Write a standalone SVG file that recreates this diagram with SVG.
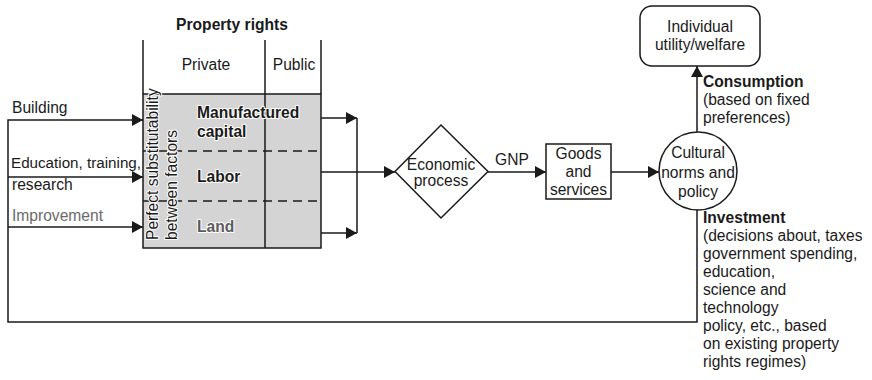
<svg xmlns="http://www.w3.org/2000/svg" width="872" height="380" viewBox="0 0 872 380">
<defs>
<marker id="ah" markerWidth="12" markerHeight="12" refX="11" refY="6" orient="auto" markerUnits="userSpaceOnUse">
<path d="M0,0 L11,6 L0,12 Z" fill="#1a1a1a"/>
</marker>
</defs>
<style>
text{font-family:"Liberation Sans",Arial,sans-serif;font-size:15.6px;fill:#1a1a1a}
.b{font-weight:bold}
.g{fill:#6a6a6a}
.gl{fill:#5c5c5c}
.halo{paint-order:stroke;stroke:#fff;stroke-width:2px;stroke-linejoin:round}
.ln{fill:none;stroke:#1a1a1a;stroke-width:1.5}
.c{text-anchor:middle}
</style>
<rect width="872" height="380" fill="#fff"/>

<g id="property-table">
<rect x="143" y="94" width="178" height="154" fill="#d4d4d4" stroke="#1a1a1a" stroke-width="1.5"/>
<line class="ln" x1="143" y1="40" x2="143" y2="94"/>
<line class="ln" x1="265" y1="40" x2="265" y2="248"/>
<line class="ln" x1="321" y1="40" x2="321" y2="94"/>
<line x1="143" y1="151" x2="321" y2="151" stroke="#1a1a1a" stroke-width="1.5" stroke-dasharray="9,6"/>
<line x1="143" y1="201" x2="321" y2="201" stroke="#1a1a1a" stroke-width="1.5" stroke-dasharray="9,6"/>
<text class="b c" x="232" y="30">Property rights</text>
<text class="c" x="206" y="70">Private</text>
<text class="c" x="294" y="70">Public</text>
<text class="halo" x="158" y="240" transform="rotate(-90 158 240)">Perfect substitutability</text>
<text class="halo" x="177" y="240" transform="rotate(-90 177 240)">between factors</text>
<text class="b halo" x="197" y="118">Manufactured</text>
<text class="b halo" x="197" y="137">capital</text>
<text class="b halo" x="197" y="182">Labor</text>
<text class="b gl halo" x="197" y="232">Land</text>
</g>

<g id="input-labels">
<text x="12" y="113">Building</text>
<text x="11" y="168" style="font-size:15.2px">Education, training,</text>
<text x="12" y="190">research</text>
<text class="g" x="12" y="221">Improvement</text>
</g>

<g id="economic-process">
<polygon points="441,125 488,171.5 441,218 395,171.5" fill="#fff" stroke="#1a1a1a" stroke-width="1.5"/>
<text class="c" x="441" y="170">Economic</text>
<text class="c" x="441" y="186">process</text>
</g>

<g id="goods-services">
<rect x="546" y="144" width="65" height="55" fill="#fff" stroke="#1a1a1a" stroke-width="1.5"/>
<text class="c" x="578.5" y="159">Goods</text>
<text class="c" x="578.5" y="177">and</text>
<text class="c" x="578.5" y="195">services</text>
</g>

<g id="cultural-norms">
<circle cx="698" cy="171" r="39" fill="#fff" stroke="#1a1a1a" stroke-width="1.5"/>
<text class="c" x="698" y="158">Cultural</text>
<text class="c" x="698" y="178">norms and</text>
<text class="c" x="698" y="197">policy</text>
</g>

<g id="individual-utility">
<rect x="640" y="6" width="120" height="60" rx="12" ry="12" fill="#fff" stroke="#1a1a1a" stroke-width="1.5"/>
<text class="c" x="700" y="32">Individual</text>
<text class="c" x="700" y="50">utility/welfare</text>
</g>

<g id="connectors">
<polyline class="ln" points="697,210 697,322 8,322 8,120 143,120" marker-end="url(#ah)"/>
<line class="ln" x1="8" y1="177" x2="143" y2="177" marker-end="url(#ah)"/>
<line class="ln" x1="8" y1="227" x2="143" y2="227" marker-end="url(#ah)"/>
<line class="ln" x1="321" y1="118" x2="357" y2="118" marker-end="url(#ah)"/>
<line class="ln" x1="321" y1="233" x2="357" y2="233" marker-end="url(#ah)"/>
<line class="ln" x1="357" y1="118" x2="357" y2="233"/>
<line class="ln" x1="321" y1="172" x2="395" y2="172" marker-end="url(#ah)"/>
<line class="ln" x1="488" y1="172" x2="546" y2="172" marker-end="url(#ah)"/>
<line class="ln" x1="611" y1="172" x2="659" y2="172" marker-end="url(#ah)"/>
<line class="ln" x1="697" y1="132" x2="697" y2="66" marker-end="url(#ah)"/>
<text x="495" y="165">GNP</text>
</g>

<g id="flow-labels">
<text class="b" x="703" y="87">Consumption</text>
<text x="703" y="105">(based on fixed</text>
<text x="703" y="123">preferences)</text>
<text class="b" x="703" y="223">Investment</text>
<text x="703" y="241">(decisions about, taxes</text>
<text x="703" y="259">government spending,</text>
<text x="703" y="277">education,</text>
<text x="703" y="295">science and</text>
<text x="703" y="313">technology</text>
<text x="703" y="331">policy, etc., based</text>
<text x="703" y="349">on existing property</text>
<text x="703" y="367">rights regimes)</text>
</g>
</svg>
